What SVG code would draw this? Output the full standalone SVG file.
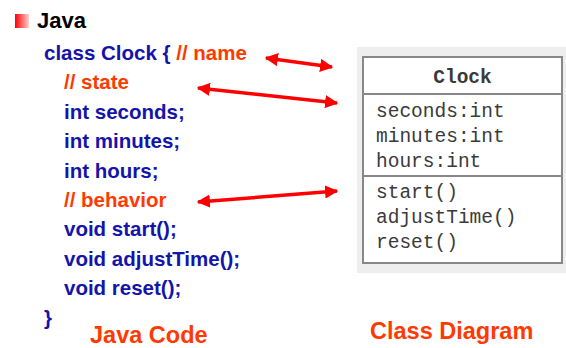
<svg xmlns="http://www.w3.org/2000/svg" width="566" height="348" viewBox="0 0 566 348">
  <style>
    .code { font-family: "Liberation Sans", Arial, sans-serif; font-weight: bold; font-size: 20.5px; fill: #1414aa; }
    .cmt { fill: #ff3a00; }
    .lbl { font-family: "Liberation Sans", Arial, sans-serif; font-weight: bold; font-size: 23.5px; fill: #ff3a00; }
    .uml { font-family: "Liberation Mono", "Courier New", monospace; font-size: 19.5px; fill: #3a3a3a; }
    .arr { stroke: #ff0000; stroke-width: 3.5; fill: none; marker-start: url(#ah); marker-end: url(#ah); }
  </style>
  <defs>
    <linearGradient id="bul" x1="0" y1="0" x2="1" y2="0">
      <stop offset="0" stop-color="#ff0000"/>
      <stop offset="1" stop-color="#ffd0d0"/>
    </linearGradient>
    <marker id="ah" viewBox="0 0 10 10" refX="9" refY="5" markerWidth="3.8" markerHeight="3.8" orient="auto-start-reverse" markerUnits="strokeWidth">
      <path d="M0,0 L10,5 L0,10 Z" fill="#ff0000"/>
    </marker>
  </defs>
  <rect width="566" height="348" fill="#ffffff"/>

  <g id="java-code">
    <rect x="15" y="14" width="14" height="14" fill="url(#bul)"/>
    <text x="37" y="28" font-family="Liberation Sans, Arial, sans-serif" font-weight="bold" font-size="22" fill="#000000">Java</text>
    <text class="code" x="44" y="60">class Clock { <tspan class="cmt">// name</tspan></text>
    <text class="code cmt" x="64" y="89.4">// state</text>
    <text class="code" x="64" y="118.8">int seconds;</text>
    <text class="code" x="64" y="148.2">int minutes;</text>
    <text class="code" x="64" y="177.6">int hours;</text>
    <text class="code cmt" x="64" y="207">// behavior</text>
    <text class="code" x="64" y="236.4">void start();</text>
    <text class="code" x="64" y="265.8">void adjustTime();</text>
    <text class="code" x="64" y="295.2">void reset();</text>
    <text class="code" x="44" y="324.6">}</text>
    <text class="lbl" x="90" y="343">Java Code</text>
  </g>

  <g id="class-diagram">
    <rect x="357" y="47" width="209" height="226" fill="#eeeeee"/>
    <rect x="363" y="57" width="199" height="206" fill="#ffffff" stroke="#888888" stroke-width="2"/>
    <line x1="363" y1="94" x2="562" y2="94" stroke="#888888" stroke-width="2"/>
    <line x1="363" y1="176" x2="562" y2="176" stroke="#888888" stroke-width="2"/>
    <text class="uml" x="462.5" y="83" text-anchor="middle" font-weight="bold">Clock</text>
    <text class="uml" x="376" y="117">seconds:int</text>
    <text class="uml" x="376" y="142">minutes:int</text>
    <text class="uml" x="376" y="167">hours:int</text>
    <text class="uml" x="376" y="198">start()</text>
    <text class="uml" x="376" y="223">adjustTime()</text>
    <text class="uml" x="376" y="248">reset()</text>
    <text class="lbl" x="370" y="339">Class Diagram</text>
  </g>

  <g id="connectors">
    <line class="arr" x1="266" y1="58" x2="332" y2="67"/>
    <line class="arr" x1="198" y1="88" x2="337" y2="103"/>
    <line class="arr" x1="198" y1="202" x2="337" y2="191"/>
  </g>
</svg>
